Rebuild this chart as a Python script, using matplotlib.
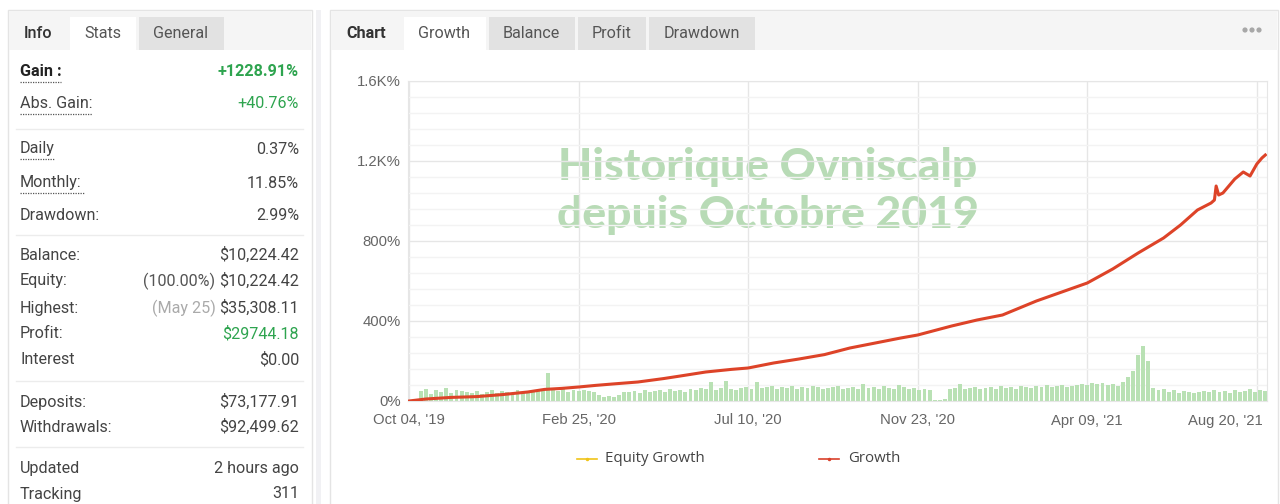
import numpy as np
import matplotlib
matplotlib.use("Agg")
import matplotlib.pyplot as plt
import matplotlib.transforms as mtransforms
from matplotlib.patches import Rectangle, Circle

# ---- data ----
stat_labels = ["Gain :", "Abs. Gain:", "Daily", "Monthly:", "Drawdown:",
               "Balance:", "Equity:", "Highest:", "Profit:", "Interest",
               "Deposits:", "Withdrawals:", "Updated", "Tracking"]
stat_values = ["+1228.91%", "+40.76%", "0.37%", "11.85%", "2.99%",
               "$10,224.42", "$10,224.42", "$35,308.11", "$29744.18", "$0.00",
               "$73,177.91", "$92,499.62", "2 hours ago", "311"]
stat_prefix = {6: "(100.00%) ", 7: "(May 25) "}

x_tick_labels = ["Oct 04, '19", "Feb 25, '20", "Jul 10, '20",
                 "Nov 23, '20", "Apr 09, '21", "Aug 20, '21"]
y_ticks = [0, 400, 800, 1200, 1600]
y_tick_labels = ["0%", "400%", "800%", "1.2K%", "1.6K%"]

# growth curve: position (100 = one date tick) and growth in %
growth_x = [0, 10, 25, 40, 55, 70, 80, 90, 100, 110, 120, 135, 150, 160, 175,
            190, 200, 215, 230, 245, 260, 275, 290, 300, 320, 335, 350, 360,
            370, 385, 400, 415, 430, 445, 455, 465, 473, 475, 476, 477.5, 480,
            487, 492, 496, 500, 503, 505]
growth_y = [0, 10, 18, 22, 32, 45, 58, 63, 70, 78, 85, 95, 112, 125, 145,
            158, 165, 190, 210, 232, 265, 290, 315, 330, 375, 405, 430, 465,
            500, 545, 590, 660, 740, 815, 880, 955, 990, 1005, 1075, 1030, 1040,
            1110, 1145, 1125, 1185, 1215, 1230]

# daily activity bars (height in chart %)
bar_heights = [50, 60, 35, 55, 45, 65, 40, 55, 50, 45,
               40, 50, 35, 45, 55, 40, 50, 45, 40, 55, 45, 50, 45, 55, 50,
               140,
               55, 50, 60, 45, 55, 50, 55,
               50, 45, 30, 20, 25, 20, 30, 45,
               45, 50, 40, 55, 45, 50, 55, 45, 60, 50, 55, 45, 60, 55, 65,
               60, 95, 55, 65, 100, 60, 55, 65, 70, 60, 95,
               65, 70, 75, 60, 70, 65, 75, 60, 70, 65, 75, 70, 60, 65, 70, 75, 60,
               65, 70, 60, 85, 65, 70, 60, 75, 65, 60, 80, 70, 60, 65, 55, 60, 55,
               5, 5, 8,
               60, 65, 85, 60, 65, 70, 60, 65, 70, 60, 75, 65, 70, 60, 75, 70, 65,
               75, 70, 80, 70, 75, 80, 70, 75, 80, 85, 80,
               90, 85, 90, 80, 85, 75, 95,
               120, 150, 230, 275, 200, 65,
               55,
               60, 45, 55, 40, 50, 45, 40, 45, 50, 45, 55, 45, 50, 40, 55, 45, 50,
               60, 45, 55, 50]

W, H = 1280, 504
fig = plt.figure(figsize=(W / 100, H / 100), dpi=100)
fig.patch.set_facecolor("white")

bg = fig.add_axes([0, 0, 1, 1])
bg.set_xlim(0, W)
bg.set_ylim(H, 0)
bg.axis("off")

UI = "Roboto"
FS = 11.6
dark = "#333333"

# ---- left panel ----
bg.add_patch(Rectangle((316, 10), 5, 500, facecolor="#f1f1f4", edgecolor="none"))
bg.add_patch(Rectangle((8, 10), 304, 500, facecolor="white", edgecolor="#e4e4e4", lw=1))
bg.add_patch(Rectangle((9, 11), 302, 39, facecolor="#f5f5f5", edgecolor="none"))
bg.add_patch(Rectangle((70, 17), 66, 33, facecolor="white", edgecolor="none"))
bg.add_patch(Rectangle((139, 17), 85, 33, facecolor="#e2e2e2", edgecolor="none"))
bg.text(24, 33, "Info", fontsize=FS, family=UI, weight="medium", color=dark, va="center")
bg.text(103, 33, "Stats", fontsize=FS, family=UI, color="#555", va="center", ha="center")
bg.text(181, 33, "General", fontsize=FS, family=UI, color="#555", va="center", ha="center")

row_y = [71, 104, 149, 183, 215, 255, 281, 308, 334, 360, 402, 427, 468, 494]
for i, (lab, val) in enumerate(zip(stat_labels, stat_values)):
    y = row_y[i]
    bold = i == 0
    bg.text(20, y, lab, fontsize=FS, family=UI, color="#222" if bold else "#444",
            weight="bold" if bold else "normal", va="center")
    vcol = "#2ea44f" if i in (0, 1, 8) else "#444"
    t = bg.text(299, y, val, fontsize=FS, family=UI, color=vcol,
                weight="bold" if bold else "normal", va="center", ha="right")
    if i in stat_prefix:
        pcol = "#555" if i == 6 else "#aaaaaa"
        bg.annotate(stat_prefix[i], xy=(0, 0.5), xycoords=t, fontsize=FS, family=UI,
                    color=pcol, va="center", ha="right")

for y, x1 in [(82, 61), (114, 92), (159, 55), (193, 85)]:
    bg.plot([20, x1], [y, y], color="#555", lw=0.9, ls=(0, (1, 1)))
for y in [129, 235, 381, 447]:
    bg.plot([16, 303], [y, y], color="#ececec", lw=1)

# ---- right panel ----
bg.add_patch(Rectangle((330, 10), 948, 500, facecolor="white", edgecolor="#e4e4e4", lw=1))
bg.add_patch(Rectangle((331, 11), 946, 39, facecolor="#f5f5f5", edgecolor="none"))
bg.add_patch(Rectangle((404, 17), 82, 33, facecolor="white", edgecolor="none"))
for x0, x1 in [(489, 575), (578, 646), (649, 755)]:
    bg.add_patch(Rectangle((x0, 17), x1 - x0, 33, facecolor="#e2e2e2", edgecolor="none"))
bg.text(346, 33, "Chart", fontsize=FS, family=UI, weight="bold", color=dark, va="center")
for cx, lab in [(444, "Growth"), (531, "Balance"), (612, "Profit"), (702, "Drawdown")]:
    bg.text(cx, 33, lab, fontsize=FS, family=UI, color="#555", va="center", ha="center")
for cx in [1245, 1252, 1259]:
    bg.add_patch(Circle((cx, 30), 2.6, facecolor="#a8a8a8", edgecolor="none"))

# legend
bg.plot([577, 597], [459, 459], color="#f0c419", lw=1.2)
bg.plot([587], [459], marker="o", ms=1.5, color="#f0c419")
bg.text(605, 459, "Equity Growth", fontsize=10.8, family="Open Sans", color="#444", va="center")
bg.plot([819, 839], [459, 459], color="#d9412b", lw=1.2)
bg.plot([829], [459], marker="o", ms=1.5, color="#d9412b")
bg.text(848, 459, "Growth", fontsize=10.8, family="Open Sans", color="#444", va="center")

# ---- chart ----
left, right, top, bottom = 408, 1267, 81, 401
ax = fig.add_axes([left / W, 1 - bottom / H, (right - left) / W, (bottom - top) / H])
ax.set_facecolor("none")
ax.set_xlim(-0.6, 506)
ax.set_ylim(0, 1600)

bar_x = 7 + 3 * np.arange(len(bar_heights))
ax.bar(bar_x, bar_heights, width=2.3, color="#b9e1b4", edgecolor="none", zorder=2)
ax.plot(growth_x, growth_y, color="#dd4328", lw=2.2, zorder=4, solid_joinstyle="round")

ax.set_yticks(y_ticks)
ax.set_yticklabels(y_tick_labels)
ax.set_yticks(np.arange(80, 1600, 80), minor=True)
ax.set_xticks(np.arange(0, 600, 100))
ax.set_xticklabels(x_tick_labels)
ax.grid(which="major", color="#e6e6e6", lw=1, zorder=0)
ax.grid(which="minor", axis="y", color="#f3f3f3", lw=1, zorder=0)
ax.tick_params(which="both", length=0, labelsize=10.7, labelcolor="#666")
ax.tick_params(axis="y", pad=5)
ax.tick_params(axis="x", pad=9)
for lab in ax.get_xticklabels() + ax.get_yticklabels():
    lab.set_family("Liberation Sans")
last = ax.get_xticklabels()[-1]
last.set_horizontalalignment("right")
last.set_transform(last.get_transform() + mtransforms.ScaledTranslation(6 / 100, 0, fig.dpi_scale_trans))
for s in ax.spines.values():
    s.set_color("#e6e6e6")

# watermark
for yy, txt in [(167, "Historique Ovniscalp"), (215, "depuis Octobre 2019")]:
    bg.text(768, yy, txt, fontsize=32, family="Lato", weight="black",
            color="#b8dbb6", ha="center", va="center", zorder=5)

fig.savefig("out.png", dpi=100)
